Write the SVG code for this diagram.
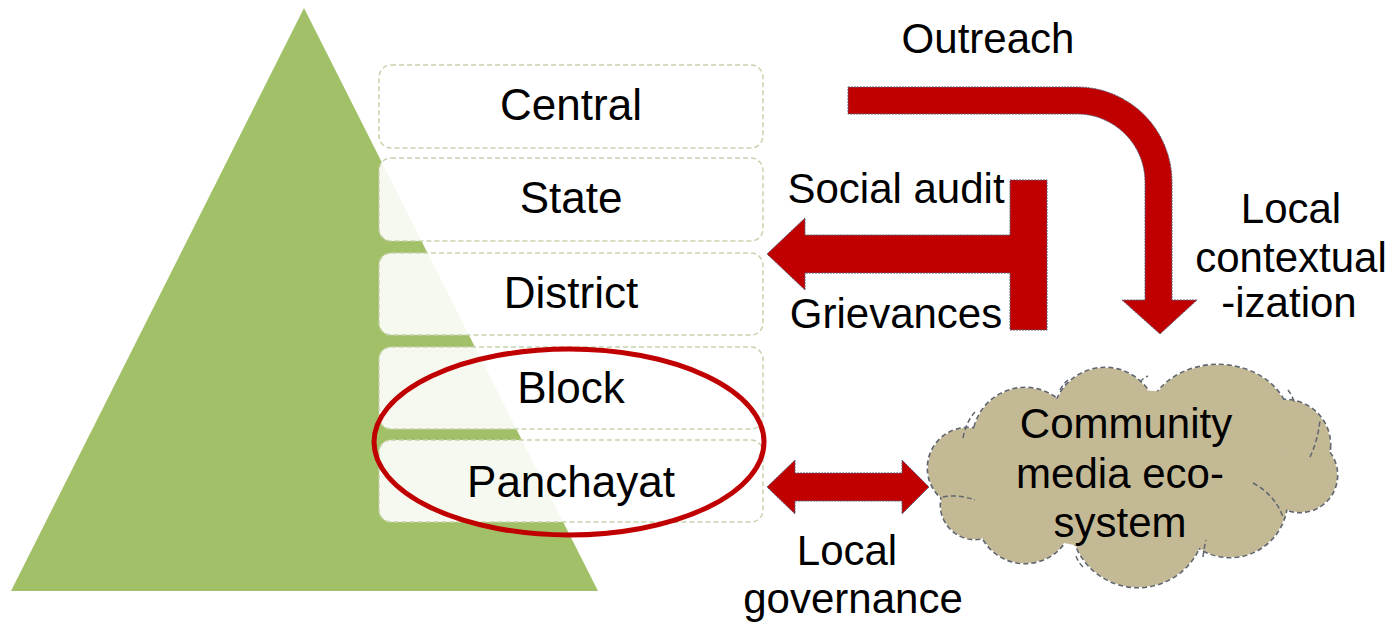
<svg xmlns="http://www.w3.org/2000/svg" width="1392" height="626" viewBox="0 0 1392 626">
<style>
.lbl{font-family:"Liberation Sans",Arial,sans-serif;font-size:42px;fill:#000;text-anchor:middle}
.box{fill:#fff;fill-opacity:0.9;stroke:#c8d2ad;stroke-width:1.5;stroke-dasharray:5 3}
.bl{font-family:"Liberation Sans",Arial,sans-serif;font-size:44px;fill:#000;text-anchor:middle}
.arr{fill:#c00000;stroke:#56607e;stroke-width:1;stroke-dasharray:2 1}
.cs{fill:#c4b995;stroke:#5f6670;stroke-width:3;stroke-dasharray:5 3}
.cf{fill:#c4b995}
.ci{fill:none;stroke:#5f6670;stroke-width:1.5;stroke-dasharray:5 3}
</style>
<rect width="1392" height="626" fill="#fff"/>
<g id="pyramid">
<polygon points="304,8 598,591 11,591" fill="#a1c067"/>
</g>
<g id="central"><rect class="box" x="379" y="65" width="384" height="83" rx="12"/><text class="bl" x="571" y="120">Central</text></g>
<g id="state"><rect class="box" x="379" y="158" width="384" height="83" rx="12"/><text class="bl" x="571" y="213">State</text></g>
<g id="district"><rect class="box" x="379" y="253" width="384" height="82" rx="12"/><text class="bl" x="571" y="308">District</text></g>
<g id="block"><rect class="box" x="379" y="347" width="384" height="82" rx="12"/><text class="bl" x="571" y="403">Block</text></g>
<g id="panchayat"><rect class="box" x="379" y="440" width="384" height="82" rx="12"/><text class="bl" x="571" y="497">Panchayat</text></g>
<g id="highlight"><ellipse cx="569" cy="442" rx="195" ry="93" fill="none" stroke="#c00000" stroke-width="5"/></g>
<g id="cloud">
<g class="cs">
<circle cx="968" cy="468" r="40"/>
<circle cx="1025" cy="440" r="52"/>
<circle cx="1105" cy="420" r="52"/>
<ellipse cx="1218" cy="425" rx="72" ry="60"/>
<circle cx="1285" cy="445" r="45"/>
<circle cx="1300" cy="475" r="37"/>
<circle cx="1230" cy="500" r="57"/>
<circle cx="1138" cy="520" r="67"/>
<circle cx="1025" cy="515" r="48"/>
<circle cx="975" cy="505" r="34"/>
</g>
<g class="cf">
<circle cx="968" cy="468" r="40"/>
<circle cx="1025" cy="440" r="52"/>
<circle cx="1105" cy="420" r="52"/>
<ellipse cx="1218" cy="425" rx="72" ry="60"/>
<circle cx="1285" cy="445" r="45"/>
<circle cx="1300" cy="475" r="37"/>
<circle cx="1230" cy="500" r="57"/>
<circle cx="1138" cy="520" r="67"/>
<circle cx="1025" cy="515" r="48"/>
<circle cx="975" cy="505" r="34"/>
<ellipse cx="1130" cy="470" rx="160" ry="80"/>
</g>
<path class="ci" d="M943 497 Q958 494 975 500"/>
<path class="ci" d="M963 438 Q966 422 975 412"/>
<path class="ci" d="M1060 390 Q1063 384 1068 380"/>
<path class="ci" d="M1140 382 Q1143 378 1148 376"/>
<path class="ci" d="M1288 390 Q1292 395 1294 402"/>
<path class="ci" d="M1310 457 Q1318 440 1320 420"/>
<path class="ci" d="M1253 483 Q1275 495 1283 517"/>
<path class="ci" d="M1203 557 Q1204 548 1206 540"/>
<path class="ci" d="M1083 567 Q1078 562 1076 556"/>
<text class="lbl" x="1126" y="438">Community</text>
<text class="lbl" x="1120" y="488">media eco-</text>
<text class="lbl" x="1120" y="537">system</text>
</g>
<g id="connectors">
<path class="arr" d="M848 87 L1077 87 A95 95 0 0 1 1172 182 L1172 300 L1197 300 L1160 334 L1122 300 L1145 300 L1145 182 A68 68 0 0 0 1077 114 L848 114 Z"/>
<path class="arr" d="M1010 180 L1047 180 L1047 330 L1010 330 L1010 273 L805 273 L805 290 L767 254 L805 218 L805 235 L1010 235 Z"/>
<path class="arr" d="M767 487 L795 460 L795 473 L902 473 L902 460 L929 487 L902 514 L902 501 L795 501 L795 514 Z"/>
</g>
<g id="labels">
<text class="lbl" x="988" y="53">Outreach</text>
<text class="lbl" x="896" y="203">Social audit</text>
<text class="lbl" x="896" y="328">Grievances</text>
<text class="lbl" x="1291" y="223">Local</text>
<text class="lbl" x="1291" y="272">contextual</text>
<text class="lbl" x="1289" y="317">-ization</text>
<text class="lbl" x="847" y="565">Local</text>
<text class="lbl" x="853" y="613">governance</text>
</g>
</svg>
